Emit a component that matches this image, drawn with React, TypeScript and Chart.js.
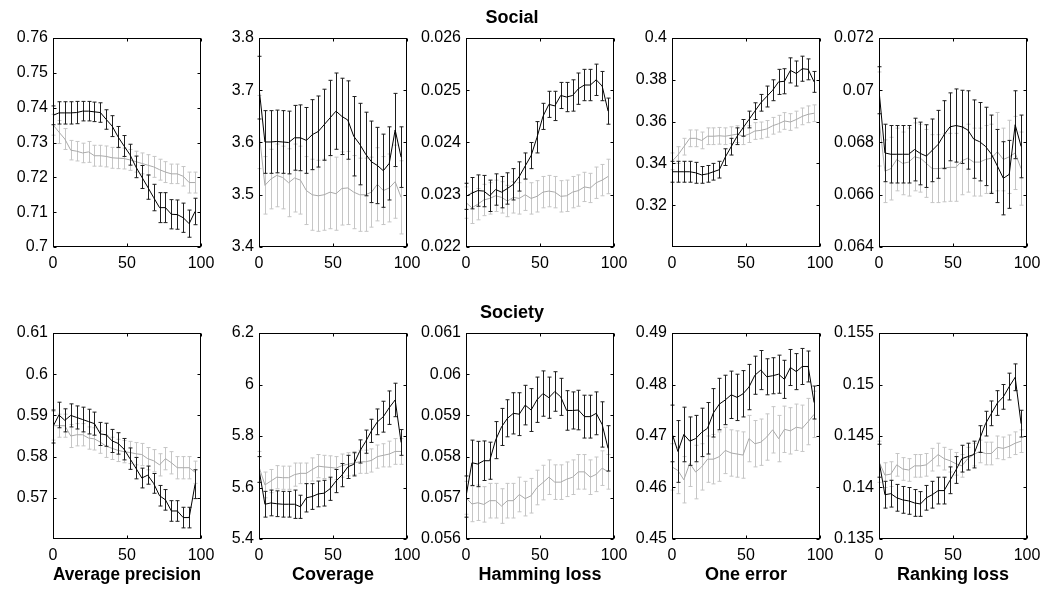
import React, { useEffect, useRef } from 'react';
import { Chart, registerables } from 'chart.js';
Chart.register(...registerables);

const X = [0, 4, 8, 12, 16, 20, 24, 28, 32, 36, 40, 44, 48, 52, 56, 60, 64, 68, 72, 76, 80, 84, 88, 92, 96];
const xTicks = [0, 50, 100];

// ---- Social: Average precision ----
const socApBlack = [0.7378,0.7385,0.7385,0.7385,0.7386,0.739,0.739,0.7388,0.7386,0.7366,0.7347,0.7316,0.729,0.7265,0.723,0.7201,0.7172,0.7142,0.7113,0.7113,0.7094,0.7093,0.7084,0.7067,0.7102];
const socApBlackErr = [0.0027,0.0032,0.0032,0.0032,0.0032,0.0028,0.0028,0.0028,0.0028,0.0028,0.003,0.003,0.003,0.003,0.0031,0.0033,0.0035,0.0038,0.0043,0.0043,0.0042,0.0042,0.0042,0.0039,0.0038];
const socApGray = [0.7351,0.733,0.731,0.7278,0.7275,0.727,0.7273,0.7262,0.7262,0.726,0.7256,0.7255,0.7254,0.725,0.7245,0.724,0.7235,0.723,0.7222,0.7215,0.721,0.721,0.7203,0.7185,0.7185];
const socApGrayErr = [0.003,0.0033,0.003,0.0028,0.0028,0.0028,0.003,0.003,0.003,0.003,0.003,0.003,0.003,0.003,0.003,0.003,0.003,0.003,0.003,0.003,0.0028,0.0028,0.0028,0.003,0.003];
const socApTicks = [0.7, 0.71, 0.72, 0.73, 0.74, 0.75, 0.76];

// ---- Social: Coverage ----
const socCovBlack = [3.705,3.601,3.601,3.602,3.601,3.6,3.609,3.609,3.604,3.615,3.621,3.634,3.647,3.66,3.65,3.643,3.612,3.597,3.578,3.563,3.556,3.546,3.56,3.624,3.572];
const socCovBlackErr = [0.06,0.06,0.06,0.06,0.06,0.06,0.062,0.063,0.063,0.067,0.068,0.068,0.072,0.073,0.073,0.075,0.076,0.078,0.08,0.078,0.073,0.07,0.07,0.07,0.058];
const socCovGray = [3.62,3.518,3.53,3.537,3.533,3.523,3.532,3.528,3.508,3.5,3.498,3.5,3.505,3.502,3.512,3.513,3.505,3.5,3.5,3.505,3.52,3.508,3.513,3.525,3.495];
const socCovGrayErr = [0.07,0.055,0.057,0.06,0.06,0.065,0.065,0.065,0.065,0.068,0.068,0.068,0.07,0.07,0.07,0.07,0.07,0.07,0.07,0.067,0.07,0.065,0.065,0.07,0.07];
const socCovTicks = [3.4, 3.5, 3.6, 3.7, 3.8];

// ---- Social: Hamming loss ----
const socHamBlack = [0.02297,0.02303,0.02308,0.02307,0.02298,0.0231,0.02305,0.02312,0.0232,0.02335,0.02355,0.02375,0.0241,0.0245,0.02473,0.0247,0.0249,0.02487,0.0249,0.02503,0.0251,0.0251,0.0252,0.02508,0.0246];
const socHamBlackErr = [0.00025,0.0003,0.0003,0.0003,0.0003,0.0003,0.0003,0.0003,0.0003,0.00028,0.00025,0.00025,0.0003,0.00025,0.00025,0.00028,0.00025,0.00028,0.0003,0.0003,0.0003,0.0003,0.0003,0.00028,0.00025];
const socHamGray = [0.02285,0.02275,0.02282,0.0229,0.02293,0.02298,0.02295,0.02288,0.02295,0.02293,0.023,0.02293,0.02297,0.02305,0.02307,0.02305,0.02297,0.02298,0.02305,0.02308,0.02315,0.02313,0.02323,0.02328,0.02335];
const socHamGrayErr = [0.0003,0.0003,0.0003,0.0003,0.0003,0.0003,0.0003,0.0003,0.0003,0.0003,0.0003,0.0003,0.0003,0.0003,0.0003,0.0003,0.0003,0.0003,0.0003,0.0003,0.00028,0.00028,0.0003,0.0003,0.00033];
const socHamTicks = [0.022, 0.023, 0.024, 0.025, 0.026];

// ---- Social: One error ----
const socOneBlack = [0.336,0.336,0.336,0.336,0.3355,0.3345,0.335,0.336,0.337,0.343,0.348,0.353,0.357,0.361,0.365,0.369,0.372,0.375,0.379,0.3793,0.3845,0.383,0.3853,0.385,0.379];
const socOneBlackErr = [0.005,0.005,0.005,0.005,0.005,0.004,0.004,0.004,0.004,0.004,0.004,0.004,0.004,0.004,0.004,0.004,0.005,0.005,0.006,0.006,0.006,0.006,0.006,0.005,0.005];
const socOneGray = [0.341,0.344,0.348,0.352,0.352,0.351,0.353,0.353,0.3532,0.353,0.3535,0.354,0.353,0.354,0.3555,0.3558,0.3565,0.358,0.359,0.3603,0.3598,0.361,0.3625,0.3635,0.364];
const socOneGrayErr = [0.004,0.004,0.004,0.004,0.004,0.004,0.004,0.004,0.004,0.004,0.004,0.004,0.004,0.004,0.004,0.004,0.004,0.004,0.004,0.004,0.004,0.004,0.004,0.004,0.004];
const socOneTicks = [0.32, 0.34, 0.36, 0.38, 0.4];

// ---- Social: Ranking loss ----
const socRankBlack = [0.07,0.0676,0.06755,0.06755,0.06755,0.06755,0.06773,0.06758,0.06748,0.0677,0.06793,0.0683,0.0686,0.06865,0.0686,0.06848,0.06813,0.06803,0.06785,0.06755,0.0671,0.06663,0.06678,0.06868,0.06785];
const socRankBlackErr = [0.0009,0.0011,0.0011,0.0011,0.0011,0.0011,0.0012,0.0012,0.0012,0.0012,0.0013,0.0013,0.0013,0.0014,0.0014,0.0015,0.0015,0.0015,0.0015,0.0015,0.0014,0.0014,0.0013,0.0013,0.0012];
const socRankGray = [0.0689,0.0669,0.067,0.06735,0.0672,0.06725,0.06745,0.0674,0.0672,0.067,0.067,0.06703,0.06705,0.06705,0.0673,0.0674,0.06725,0.06725,0.06735,0.0674,0.06765,0.06735,0.06745,0.0676,0.067];
const socRankGrayErr = [0.0018,0.0012,0.0012,0.0012,0.0012,0.0013,0.0013,0.0013,0.0013,0.0013,0.0013,0.0013,0.0013,0.0013,0.0013,0.0013,0.0013,0.0013,0.0013,0.0013,0.0015,0.0012,0.0014,0.0014,0.0014];
const socRankTicks = [0.064, 0.066, 0.068, 0.07, 0.072];

// ---- Society: Average precision ----
const styApBlack = [0.5873,0.5901,0.5888,0.59,0.5895,0.589,0.5885,0.588,0.5855,0.5853,0.5838,0.5832,0.5818,0.5795,0.5772,0.5748,0.5755,0.5735,0.5705,0.5695,0.5668,0.5668,0.5652,0.5652,0.5733];
const styApBlackErr = [0.004,0.0031,0.0028,0.0028,0.0028,0.003,0.003,0.0028,0.0028,0.0028,0.0028,0.0026,0.0026,0.0026,0.0026,0.0024,0.0022,0.0024,0.0025,0.0025,0.0025,0.0025,0.0025,0.0025,0.0035];
const styApGray = [0.5875,0.5875,0.5875,0.585,0.5853,0.5853,0.5845,0.5843,0.5835,0.5825,0.582,0.5815,0.5812,0.581,0.5807,0.5805,0.5795,0.579,0.578,0.5795,0.5785,0.5773,0.5773,0.5773,0.5762];
const styApGrayErr = [0.0035,0.0028,0.0028,0.0028,0.0027,0.0027,0.0027,0.0027,0.0027,0.0027,0.0027,0.0027,0.0027,0.0027,0.0027,0.0027,0.0027,0.0027,0.0027,0.0027,0.0027,0.0027,0.0027,0.0027,0.0027];
const styApTicks = [0.57, 0.58, 0.59, 0.6, 0.61];

// ---- Society: Coverage ----
const styCovBlack = [5.67,5.535,5.54,5.537,5.535,5.535,5.535,5.525,5.56,5.565,5.575,5.578,5.595,5.625,5.648,5.68,5.69,5.74,5.778,5.82,5.855,5.875,5.91,5.94,5.775];
const styCovBlackErr = [0.05,0.05,0.05,0.05,0.05,0.05,0.055,0.045,0.055,0.05,0.05,0.05,0.045,0.045,0.045,0.045,0.045,0.045,0.045,0.045,0.05,0.06,0.065,0.065,0.05];
const styCovGray = [5.68,5.61,5.625,5.64,5.638,5.638,5.65,5.655,5.655,5.67,5.683,5.68,5.678,5.675,5.685,5.69,5.695,5.7,5.7,5.705,5.72,5.725,5.73,5.74,5.74];
const styCovGrayErr = [0.06,0.05,0.045,0.045,0.045,0.045,0.045,0.04,0.04,0.045,0.045,0.045,0.045,0.045,0.045,0.045,0.045,0.045,0.045,0.045,0.045,0.045,0.05,0.05,0.05];
const styCovTicks = [5.4, 5.6, 5.8, 6, 6.2];

// ---- Society: Hamming loss ----
const styHamBlack = [0.05703,0.05785,0.05782,0.0579,0.0579,0.0584,0.05872,0.05893,0.05905,0.05903,0.05925,0.05913,0.05938,0.05953,0.05943,0.05958,0.05945,0.05912,0.05912,0.05913,0.05897,0.05897,0.05905,0.05878,0.0582];
const styHamBlackErr = [0.0005,0.00055,0.00055,0.00048,0.00045,0.00045,0.00045,0.00045,0.0005,0.00052,0.00048,0.00052,0.00055,0.00055,0.0005,0.00048,0.00045,0.00048,0.00045,0.00048,0.00052,0.00052,0.00052,0.00055,0.00055];
const styHamGray = [0.057,0.05685,0.05688,0.05684,0.05693,0.05693,0.0568,0.05693,0.05693,0.05708,0.05698,0.05705,0.05725,0.05737,0.0575,0.05738,0.05738,0.05745,0.0575,0.05763,0.05763,0.0575,0.05757,0.05772,0.05763];
const styHamGrayErr = [0.0004,0.00043,0.00043,0.00043,0.00042,0.00042,0.00042,0.00042,0.00042,0.00042,0.00042,0.00042,0.00042,0.00042,0.00042,0.00042,0.00042,0.00042,0.00042,0.00042,0.00042,0.00042,0.00042,0.00042,0.00042];
const styHamTicks = [0.056, 0.057, 0.058, 0.059, 0.06, 0.061];

// ---- Society: One error ----
const styOneBlack = [0.4705,0.467,0.4703,0.469,0.4695,0.4707,0.4715,0.4745,0.4762,0.477,0.478,0.4775,0.4782,0.4795,0.4818,0.4828,0.4815,0.4817,0.482,0.481,0.4833,0.4825,0.4835,0.4835,0.4765];
const styOneBlackErr = [0.0055,0.006,0.0053,0.0047,0.0045,0.0047,0.005,0.0047,0.005,0.0048,0.0046,0.0045,0.0045,0.0044,0.0037,0.0038,0.0035,0.0035,0.0037,0.0037,0.0035,0.0035,0.0035,0.003,0.0032];
const styOneGray = [0.464,0.4633,0.4615,0.4647,0.463,0.464,0.4655,0.4655,0.466,0.4672,0.4667,0.4665,0.4663,0.4695,0.4685,0.4688,0.4698,0.4712,0.4695,0.4713,0.471,0.4717,0.4715,0.4728,0.4742];
const styOneGrayErr = [0.0045,0.0045,0.0045,0.0045,0.0052,0.0045,0.0045,0.0048,0.0048,0.0045,0.0045,0.0045,0.0045,0.0045,0.0045,0.0045,0.0045,0.0045,0.0045,0.0045,0.0045,0.0045,0.0045,0.0045,0.0045];
const styOneTicks = [0.45, 0.46, 0.47, 0.48, 0.49];

// ---- Society: Ranking loss ----
const styRankBlack = [0.1426,0.1393,0.1394,0.139,0.1388,0.1387,0.1385,0.1384,0.139,0.1393,0.1397,0.1397,0.1407,0.1417,0.1428,0.143,0.1432,0.1447,0.1462,0.1472,0.1482,0.1488,0.1498,0.1507,0.1462];
const styRankBlackErr = [0.0016,0.0013,0.0013,0.0013,0.0013,0.0013,0.0013,0.0012,0.0012,0.0013,0.0013,0.0013,0.0013,0.0013,0.0013,0.0013,0.0013,0.0013,0.0012,0.0012,0.0012,0.0012,0.0013,0.0013,0.0013];
const styRankGray = [0.1425,0.1412,0.1413,0.1422,0.1418,0.1417,0.1421,0.1421,0.1422,0.1427,0.1432,0.1428,0.1426,0.1423,0.1421,0.1428,0.1432,0.1435,0.1433,0.1433,0.1439,0.1438,0.144,0.1443,0.1445];
const styRankGrayErr = [0.002,0.0012,0.0012,0.0011,0.0011,0.0011,0.0011,0.0011,0.0011,0.0011,0.0011,0.0011,0.0011,0.0011,0.0011,0.0011,0.0011,0.0011,0.0011,0.0011,0.0011,0.0011,0.0011,0.0011,0.0011];
const styRankTicks = [0.135, 0.14, 0.145, 0.15, 0.155];

const metricLabels = ['Average precision', 'Coverage', 'Hamming loss', 'One error', 'Ranking loss'];
const groupTitles = ['Social', 'Society'];

type Panel = {
  row: number; col: number; yMin: number; yMax: number; yTicks: number[];
  black: number[]; blackErr: number[]; gray: number[]; grayErr: number[];
};

const panels: Panel[] = [
  { row: 0, col: 0, yMin: 0.7, yMax: 0.76, yTicks: socApTicks, black: socApBlack, blackErr: socApBlackErr, gray: socApGray, grayErr: socApGrayErr },
  { row: 0, col: 1, yMin: 3.4, yMax: 3.8, yTicks: socCovTicks, black: socCovBlack, blackErr: socCovBlackErr, gray: socCovGray, grayErr: socCovGrayErr },
  { row: 0, col: 2, yMin: 0.022, yMax: 0.026, yTicks: socHamTicks, black: socHamBlack, blackErr: socHamBlackErr, gray: socHamGray, grayErr: socHamGrayErr },
  { row: 0, col: 3, yMin: 0.3, yMax: 0.4, yTicks: socOneTicks, black: socOneBlack, blackErr: socOneBlackErr, gray: socOneGray, grayErr: socOneGrayErr },
  { row: 0, col: 4, yMin: 0.064, yMax: 0.072, yTicks: socRankTicks, black: socRankBlack, blackErr: socRankBlackErr, gray: socRankGray, grayErr: socRankGrayErr },
  { row: 1, col: 0, yMin: 0.56, yMax: 0.61, yTicks: styApTicks, black: styApBlack, blackErr: styApBlackErr, gray: styApGray, grayErr: styApGrayErr },
  { row: 1, col: 1, yMin: 5.4, yMax: 6.2, yTicks: styCovTicks, black: styCovBlack, blackErr: styCovBlackErr, gray: styCovGray, grayErr: styCovGrayErr },
  { row: 1, col: 2, yMin: 0.056, yMax: 0.061, yTicks: styHamTicks, black: styHamBlack, blackErr: styHamBlackErr, gray: styHamGray, grayErr: styHamGrayErr },
  { row: 1, col: 3, yMin: 0.45, yMax: 0.49, yTicks: styOneTicks, black: styOneBlack, blackErr: styOneBlackErr, gray: styOneGray, grayErr: styOneGrayErr },
  { row: 1, col: 4, yMin: 0.135, yMax: 0.155, yTicks: styRankTicks, black: styRankBlack, blackErr: styRankBlackErr, gray: styRankGray, grayErr: styRankGrayErr },
];

const FONT = "'Liberation Sans', Arial, Helvetica, sans-serif";
const BOX_LEFT = [53, 259, 466, 672, 879];
const BOX_W = 148;
const BOX_TOP = [38, 333];
const BOX_H = [209, 206];
const Y_AXIS_W = 56;
const RIGHT_PAD = 26;
const TOP_PAD = 31;
const X_AXIS_H = [30, 50];

const errorBarPlugin = {
  id: 'errbars',
  beforeDatasetDraw(chart: any, args: any) {
    const ds = chart.data.datasets[args.index];
    const err: number[] | undefined = ds.errors;
    if (!err) return;
    const xs = chart.scales.x, ys = chart.scales.y;
    const ctx = chart.ctx;
    ctx.save();
    ctx.strokeStyle = ds.errorColor;
    ctx.lineWidth = 1;
    ctx.beginPath();
    ds.data.forEach((p: any, i: number) => {
      const px = Math.round(xs.getPixelForValue(p.x)) + 0.5;
      const y1 = ys.getPixelForValue(p.y - err[i]);
      const y2 = ys.getPixelForValue(p.y + err[i]);
      ctx.moveTo(px, y1); ctx.lineTo(px, y2);
      ctx.moveTo(px - 2, y1); ctx.lineTo(px + 2, y1);
      ctx.moveTo(px - 2, y2); ctx.lineTo(px + 2, y2);
    });
    ctx.stroke();
    ctx.restore();
  },
};

const boxPlugin = {
  id: 'boxframe',
  afterDraw(chart: any) {
    const { ctx, chartArea: a } = chart;
    const l = Math.round(a.left) + 0.5, r = Math.round(a.right) - 0.5;
    const t = Math.round(a.top) + 0.5, b = Math.round(a.bottom) - 0.5;
    ctx.save();
    ctx.strokeStyle = '#000';
    ctx.lineWidth = 1;
    ctx.strokeRect(l, t, r - l, b - t);
    ctx.beginPath();
    const xs = chart.scales.x, ys = chart.scales.y;
    xs.ticks.forEach((tk: any) => {
      const px = Math.round(xs.getPixelForValue(tk.value)) + 0.5;
      ctx.moveTo(px, b); ctx.lineTo(px, b - 3);
      ctx.moveTo(px, t); ctx.lineTo(px, t + 3);
    });
    ys.ticks.forEach((tk: any) => {
      const py = Math.round(ys.getPixelForValue(tk.value)) + 0.5;
      ctx.moveTo(l, py); ctx.lineTo(l + 3, py);
      ctx.moveTo(r, py); ctx.lineTo(r - 3, py);
    });
    ctx.stroke();
    ctx.restore();
  },
};

const fmt = (v: number) => String(Number(Number(v).toPrecision(6)));

export default function App() {
  const refs = useRef<(HTMLCanvasElement | null)[]>([]);

  useEffect(() => {
    Chart.defaults.font.family = FONT;
    const charts = panels.map((p, idx) => {
      const canvas = refs.current[idx]!;
      const isMid = p.col === 2;
      const bottomRow = p.row === 1;
      return new Chart(canvas, {
        type: 'line',
        data: {
          datasets: [
            {
              data: X.map((x, i) => ({ x, y: p.black[i] })),
              borderColor: '#000000',
              borderWidth: 1,
              pointRadius: 0,
              tension: 0,
              errors: p.blackErr,
              errorColor: '#1e1e1e',
            } as any,
            {
              data: X.map((x, i) => ({ x, y: p.gray[i] })),
              borderColor: '#aaaaaa',
              borderWidth: 1,
              pointRadius: 0,
              tension: 0,
              errors: p.grayErr,
              errorColor: '#c6c6c6',
            } as any,
          ],
        },
        options: {
          animation: false,
          responsive: false,
          devicePixelRatio: 1,
          events: [],
          layout: { padding: { left: 0, right: RIGHT_PAD, top: isMid ? 0 : TOP_PAD, bottom: 0 } },
          plugins: {
            legend: { display: false },
            tooltip: { enabled: false },
            title: {
              display: isMid,
              text: groupTitles[p.row],
              color: '#000',
              font: { family: FONT, size: 18, weight: 'bold', lineHeight: 1 },
              padding: { top: 2, bottom: 11 },
            },
          },
          scales: {
            x: {
              type: 'linear',
              min: 0,
              max: 100,
              afterBuildTicks: (axis: any) => { axis.ticks = xTicks.map((v) => ({ value: v })); },
              afterFit: (scale: any) => { scale.height = X_AXIS_H[p.row]; },
              grid: { display: false, drawTicks: false },
              border: { display: false },
              ticks: { color: '#000', font: { family: FONT, size: 16 }, padding: 7, maxRotation: 0, autoSkip: false, callback: (v: any) => fmt(v) },
              title: {
                display: bottomRow,
                text: metricLabels[p.col],
                color: '#000',
                font: { family: FONT, size: 18, weight: 'bold', lineHeight: 1.2 },
                padding: { top: 0, bottom: 3 },
              },
            },
            y: {
              type: 'linear',
              min: p.yMin,
              max: p.yMax,
              afterBuildTicks: (axis: any) => { axis.ticks = p.yTicks.map((v) => ({ value: v })); },
              afterFit: (scale: any) => { scale.width = Y_AXIS_W; },
              grid: { display: false, drawTicks: false },
              border: { display: false },
              ticks: { color: '#000', font: { family: FONT, size: 16 }, padding: 5, autoSkip: false, callback: (v: any) => fmt(v) },
            },
          },
        },
        plugins: [errorBarPlugin, boxPlugin],
      } as any);
    });
    return () => charts.forEach((c) => c.destroy());
  }, []);

  return (
    <div style={{ position: 'absolute', left: 0, top: 0, width: 1044, height: 589, overflow: 'hidden', background: '#fff' }}>
      {panels.map((p, idx) => {
        const left = BOX_LEFT[p.col] - Y_AXIS_W;
        const top = BOX_TOP[p.row] - TOP_PAD;
        const w = Y_AXIS_W + BOX_W + RIGHT_PAD;
        const h = TOP_PAD + BOX_H[p.row] + X_AXIS_H[p.row];
        return (
          <canvas
            key={idx}
            ref={(el) => { refs.current[idx] = el; }}
            width={w}
            height={h}
            style={{ position: 'absolute', left, top, width: w, height: h }}
          />
        );
      })}
    </div>
  );
}
